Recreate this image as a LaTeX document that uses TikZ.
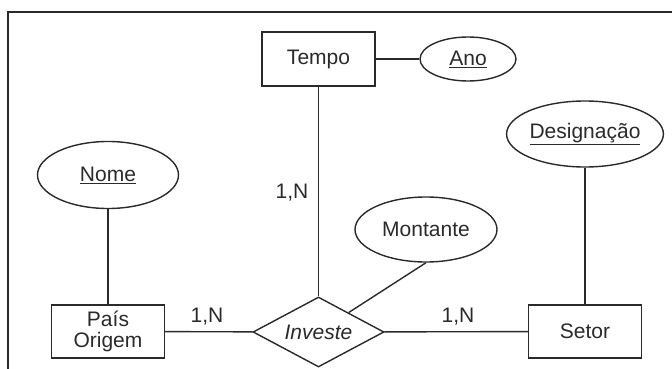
\documentclass[tikz,border=0pt]{standalone}
\usepackage{fontspec}
\setmainfont{Liberation Sans}
\usetikzlibrary{shapes.geometric}
\definecolor{ink}{HTML}{2A2A2A}
\tikzset{
  ent/.style={draw=ink, line width=1.4pt, rectangle, minimum width=113pt, minimum height=54pt, inner sep=0pt, align=center, text=ink},
  attr/.style={draw=ink, line width=1.4pt, ellipse, inner sep=0pt, text=ink},
  rel/.style={draw=ink, line width=1.4pt, diamond, aspect=1.87, minimum width=131pt, minimum height=70pt, inner sep=0pt, text=ink},
  conn/.style={draw=ink, line width=1.4pt},
  card/.style={text=ink, inner sep=0pt},
}
\begin{document}
\begin{tikzpicture}[x=1pt, y=-1pt, font=\fontsize{21}{23}\selectfont]
\useasboundingbox (0,0) rectangle (672,369);
\draw[ink, line width=1.5pt] (8,369) -- (8,12) -- (672,12);
\node[ent] (tempo) at (318.5,59) {Tempo};
\node[attr, minimum width=96pt, minimum height=44pt] (ano) at (468,59) {\underline{Ano}};
\node[attr, minimum width=141pt, minimum height=67pt] (nome) at (108,175) {\underline{Nome}};
\node[attr, minimum width=142pt, minimum height=65pt] (mont) at (426,229.5) {Montante};
\node[attr, minimum width=144pt, minimum height=66pt] (desig) at (585,134) {\underline{Designação}};
\node[ent, minimum height=53pt] (pais) at (108,331.5) {País\\[-2pt]Origem};
\node[ent, minimum height=53pt] (setor) at (585,331.5) {Setor};
\node[rel] (inv) at (318.5,332) {\itshape Investe};
\draw[conn] (tempo) -- (ano);
\draw[conn] (tempo) -- (inv);
\draw[conn] (nome) -- (pais);
\draw[conn] (desig) -- (setor);
\draw[conn] (pais) -- (inv);
\draw[conn] (inv) -- (setor);
\draw[conn] (mont.south) -- (inv);
\node[card] (c1) at (292,193) {1,N};
\node[card] (c2) at (207,317) {1,N};
\node[card] (c3) at (458,317) {1,N};
\end{tikzpicture}
\end{document}
